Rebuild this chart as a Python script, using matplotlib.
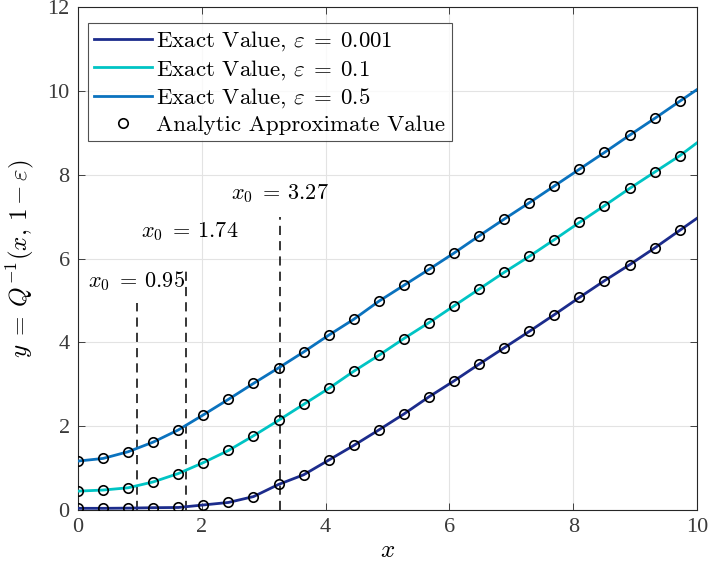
import matplotlib
matplotlib.use("Agg")
import matplotlib.pyplot as plt
import numpy as np

plt.rcParams['mathtext.fontset'] = 'cm'
plt.rcParams['font.family'] = ['Liberation Serif', 'DejaVu Serif']

# x positions of the analytic approximate markers
x_pts = [0.00, 0.405, 0.81, 1.215, 1.62, 2.025, 2.43, 2.835, 3.24, 3.645,
         4.05, 4.455, 4.86, 5.265, 5.67, 6.075, 6.48, 6.885, 7.29, 7.695,
         8.10, 8.505, 8.91, 9.315, 9.72]
x_end = 10.0

# values (exact curves at the marker abscissas)
y_e0001 = [0.04, 0.04, 0.045, 0.055, 0.06, 0.12, 0.18, 0.32, 0.61, 0.84,
           1.19, 1.54, 1.91, 2.29, 2.70, 3.08, 3.48, 3.87, 4.26, 4.66,
           5.07, 5.47, 5.85, 6.25, 6.67]
y_e0001_end = 6.96
y_e01 = [0.45, 0.476, 0.53, 0.67, 0.87, 1.13, 1.42, 1.77, 2.14, 2.52,
         2.90, 3.31, 3.69, 4.09, 4.47, 4.87, 5.27, 5.67, 6.05, 6.45,
         6.86, 7.26, 7.67, 8.06, 8.45]
y_e01_end = 8.76
y_e05 = [1.167, 1.23, 1.39, 1.62, 1.91, 2.27, 2.64, 3.02, 3.39, 3.77,
         4.17, 4.55, 4.98, 5.36, 5.74, 6.13, 6.54, 6.94, 7.33, 7.73,
         8.13, 8.53, 8.94, 9.34, 9.75]
y_e05_end = 10.03

x0_vals = [0.95, 1.74, 3.27]
x0_tops = [4.95, 5.83, 7.0]
x0_labels = [r"$x_0\;=\:0.95$", r"$x_0\;=\:1.74$", r"$x_0\;=\:3.27$"]
x0_text_pos = [(0.94, 5.45), (1.81, 6.63), (3.27, 7.55)]

series = [
    (y_e0001, y_e0001_end, "#1c2c8c", r"Exact Value, $\varepsilon\;=\:0.001$"),
    (y_e01, y_e01_end, "#00c4c4", r"Exact Value, $\varepsilon\;=\:0.1$"),
    (y_e05, y_e05_end, "#0a72be", r"Exact Value, $\varepsilon\;=\:0.5$"),
]

fig = plt.figure(figsize=(7.1, 5.75), dpi=100)
ax = fig.add_axes([78/710, 1 - 510/575, (697-78)/710, (510-7)/575])

handles = []
for ys, yend, col, lab in series:
    xl = x_pts + [x_end]
    yl = ys + [yend]
    h, = ax.plot(xl, yl, color=col, lw=2.0, label=lab, zorder=3)
    handles.append(h)
for ys, _, _, _ in series:
    hm, = ax.plot(x_pts, ys, ls='none', marker='o', ms=6.8, mfc='none',
                  mec='black', mew=1.2, zorder=4,
                  label="Analytic Approximate Value")
handles.append(hm)

for xv, top, lab, (tx, ty) in zip(x0_vals, x0_tops, x0_labels, x0_text_pos):
    ax.plot([xv, xv], [0, top], color='black', ls=(0, (6, 4)), lw=1.1, zorder=2)
    ax.text(tx, ty, lab, ha='center', va='center', fontsize=16)

ax.set_xlim(0, 10)
ax.set_ylim(0, 12)
ax.set_xticks([0, 2, 4, 6, 8, 10])
ax.set_yticks([0, 2, 4, 6, 8, 10, 12])
ax.grid(True, color='#e3e3e3', lw=0.8)
ax.set_axisbelow(True)
ax.tick_params(direction='in', top=True, right=True, labelsize=16,
               colors='#262626', length=5, width=0.6, pad=6)
ax.tick_params(labelcolor='#3a3a3a')
for s in ax.spines.values():
    s.set_color('#262626')
    s.set_linewidth(0.8)

ax.set_xlabel("$x$", fontsize=18, labelpad=2)
ax.set_ylabel(r"$y\;=\:Q^{-1}(x,\, 1-\varepsilon)$", fontsize=18, labelpad=8)

leg = ax.legend(handles=handles,
                labels=[h.get_label() for h in handles],
                loc='upper left', bbox_to_anchor=(0.008, 0.978),
                frameon=True, fancybox=False, edgecolor='#262626',
                handlelength=2.5, handletextpad=0.2, borderpad=0.3,
                labelspacing=0.2, borderaxespad=0.2,
                prop={'family': 'cmr10', 'size': 16.5})
leg.get_frame().set_linewidth(0.8)

fig.savefig("out.png", dpi=100)
